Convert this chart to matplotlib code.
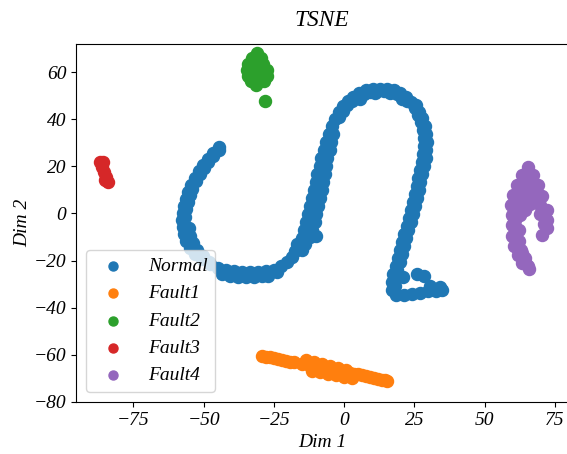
import matplotlib
matplotlib.use("Agg")
import matplotlib.pyplot as plt

# t-SNE embedding (Dim 1, Dim 2)
normal_x = [-44.5, -46.6, -48.4, -50.2, -51.6, -53.0, -54.4, -55.5, -56.2, -56.9,
            -57.3, -57.7, -57.3, -55.2, -56.9, -54.8, -56.2, -53.7, -54.8, -52.3,
            -53.0, -50.2, -50.5, -48.0, -47.7, -44.8, -43.4, -42.0, -40.6, -39.1,
            -37.7, -36.3, -34.9, -33.5, -32.0, -30.6, -29.2, -27.8, -27.0, -24.9,
            -23.8, -22.4, -20.3, -18.5, -17.4, -14.9, -16.7, -13.9, -14.9, -12.1,
            -10.0, -14.2, -11.4, -13.5, -10.3, -12.8, -10.0, -12.1, -9.3, -11.4,
            -8.5, -10.7, -7.8, -10.0, -7.5, -9.6, -6.8, -8.5, -6.4, -8.2,
            -6.0, -7.1, -5.0, -6.4, -4.6, -5.3, -3.9, -4.3, -3.2, -1.8,
            -0.4, 1.4, 3.2, 5.3, 7.8, 10.3, 12.8, 15.3, 17.8, 19.9,
            22.1, 23.8, 25.3, 26.3, 27.4, 28.1, 28.5, 28.5, 28.1, 27.8,
            27.0, 26.3, 26.0, 25.3, 24.6, 23.8, 23.1, 22.4, 21.4, 20.6,
            19.9, 19.2, 18.5, 17.4, 17.1, 17.1, 18.5, 21.4, 24.2, 27.0,
            29.9, 32.7, 34.9, 30.6, 34.2, 21.0, 26.0, 28.5, 5.7, 11.0,
            16.4, 20.6,
            # right arm, outer edge
            25.5, 26.8, 27.9, 28.8, 29.3, 29.5, 29.3, 29.0, 28.4, 27.7,
            27.2, 26.7, 26.0, 25.2, 24.5, 23.8, 22.9, 22.0, 21.3, 20.6,
            19.9, 19.0, 18.3, 18.1,
            # top arc, inner edge
            -1.8, -0.4, 1.2, 3.0, 4.9, 7.2, 9.1, 11.6, 14.1, 16.6,
            18.9, 20.7, 22.3,
            # left arc, inner edge
            -44.6, -46.6, -48.4, -50.0, -51.4, -52.8, -54.1, -55.0, -55.7, -56.2,
            -56.6]
normal_y = [28.2, 25.7, 23.2, 20.6, 18.1, 15.1, 12.1, 9.1, 6.2, 3.2,
            0.2, -2.8, -5.7, -6.2, -8.7, -9.6, -11.7, -12.5, -14.7, -15.5,
            -17.2, -18.1, -19.3, -20.6, -21.4, -23.2, -25.7, -24.0, -26.6, -24.4,
            -27.0, -24.9, -27.0, -24.9, -27.0, -24.9, -26.6, -24.4, -26.6, -24.0,
            -24.9, -22.3, -20.6, -18.5, -15.9, -15.5, -13.0, -13.0, -10.4, -10.0,
            -9.6, -7.0, -7.0, -3.6, -3.6, -0.2, -0.2, 3.2, 3.2, 6.6,
            6.6, 10.0, 10.0, 13.4, 13.4, 16.8, 16.8, 20.2, 20.2, 23.6,
            23.6, 27.0, 27.0, 30.4, 30.4, 33.8, 33.8, 37.2, 40.1, 43.1,
            45.7, 47.8, 49.5, 51.2, 52.5, 52.9, 52.9, 52.9, 52.5, 51.2,
            49.5, 47.4, 44.8, 41.8, 38.9, 35.5, 32.1, 28.7, 25.3, 21.9,
            18.5, 15.1, 11.7, 8.3, 4.9, 1.5, -1.9, -5.3, -8.7, -12.1,
            -15.5, -18.9, -22.3, -25.7, -29.1, -32.5, -34.6, -34.6, -34.2, -33.8,
            -32.9, -32.9, -32.5, -30.8, -31.2, -27.0, -25.7, -26.6, 48.6, 51.2,
            51.2, 48.6,
            46.1, 43.3, 40.4, 37.2, 33.8, 30.4, 27.0, 23.6, 20.2, 16.8,
            13.4, 10.0, 6.6, 3.2, -0.2, -3.6, -7.0, -10.4, -13.8, -17.2,
            -20.6, -24.0, -27.4, -30.8,
            41.0, 43.7, 46.0, 47.9, 49.6, 50.8, 51.7, 51.9, 51.9, 51.7,
            50.8, 49.6, 47.8,
            27.0, 24.5, 21.9, 19.4, 16.6, 13.6, 10.6, 7.7, 4.7, 1.7,
            -1.3]

fault1_x = [-29.2, -26.3, -23.5, -20.6, -17.8, -14.9, -12.1, -9.3, -6.4, -3.6,
            -0.7, 2.1, 5.0, 7.8, 10.7, 13.5, 15.3, -13.5, -10.7, -7.8,
            -5.0, -2.1, 0.7, -11.4, -8.5, -5.7, -2.8, 0.0, 2.8,
            -27.8, -24.9, -22.0, -19.2, 3.6, 6.4, 9.2, 12.1, 14.4]
fault1_y = [-60.5, -61.1, -61.8, -62.7, -63.3, -63.9, -64.6, -65.2, -65.8, -66.5,
            -67.1, -67.8, -68.4, -69.0, -69.9, -70.7, -71.2, -62.2, -63.1, -63.9,
            -64.8, -65.6, -66.5, -66.9, -67.3, -68.2, -68.6, -69.5, -69.9,
            -60.8, -61.4, -62.2, -63.0, -68.1, -68.7, -69.4, -70.3, -70.9]

fault2_x = [-31.0, -32.8, -29.7, -34.2, -31.7, -28.8, -34.6, -32.2, -29.6, -27.6,
            -34.3, -32.0, -29.4, -27.6, -33.1, -30.6, -28.5, -31.3, -28.1]
fault2_y = [68.0, 66.1, 66.1, 63.5, 63.5, 63.5, 61.0, 61.0, 61.0, 61.0,
            58.4, 58.4, 58.4, 58.2, 56.2, 56.0, 56.4, 54.6, 47.6]

fault3_x = [-86.8, -86.1, -85.4, -84.7, -84.0, -85.8, -85.1]
fault3_y = [21.9, 19.8, 17.6, 15.5, 13.4, 21.9, 14.2]

fault4_x = [65.5, 63.3, 67.3, 61.6, 65.1, 69.0, 60.1, 63.7, 67.3, 70.5,
            59.4, 62.6, 66.2, 69.8, 72.2, 59.8, 62.6, 69.8, 72.2, 72.2,
            70.5, 59.8, 62.3, 59.8, 62.3, 60.5, 63.0, 62.0, 64.4, 63.3,
            65.5, 65.8,
            64.4, 66.2, 62.4, 66.2, 68.0, 61.9, 65.0, 68.5, 61.0, 64.4,
            71.0, 70.8, 61.0, 61.0, 61.0, 61.5, 63.5, 63.8, 64.8]
fault4_y = [19.8, 16.4, 16.4, 12.1, 12.1, 12.1, 7.9, 7.9, 7.9, 7.4,
            3.6, 3.6, 4.0, 3.6, 1.5, -0.6, -0.6, -0.2, -2.8, -6.2,
            -9.1, -4.9, -7.0, -9.6, -11.7, -13.8, -15.5, -17.6, -18.9, -21.0,
            -22.3, -23.6,
            14.2, 14.2, 10.0, 10.0, 10.0, 5.8, 5.8, 5.8, 1.5, 1.5,
            -4.5, 1.0, -2.8, -5.5, -10.5, -14.5, -17.0, -20.0, -21.5]

labels = ['Normal', 'Fault1', 'Fault2', 'Fault3', 'Fault4']
xs = [normal_x, fault1_x, fault2_x, fault3_x, fault4_x]
ys = [normal_y, fault1_y, fault2_y, fault3_y, fault4_y]

plt.rcParams['font.family'] = ['Liberation Serif', 'DejaVu Serif']
plt.rcParams['font.style'] = 'italic'
plt.rcParams['font.size'] = 14

fig = plt.figure(figsize=(5.67, 4.54), dpi=100)
ax = fig.add_axes([76 / 567, 52 / 454, 492 / 567, 358 / 454])

for lab, x, y in zip(labels, xs, ys):
    ax.scatter(x, y, s=75, label=lab)

ax.set_xlim(-95.4, 79.7)
ax.set_ylim(-80.1, 72.0)
ax.set_title('TSNE', pad=13)
ax.set_xlabel('Dim 1')
ax.set_ylabel('Dim 2', labelpad=2)
ax.legend(loc='lower left', markerscale=0.75)

fig.canvas.draw()
for t in ax.get_xticklabels() + ax.get_yticklabels():
    t.set_fontstyle('italic')

fig.savefig('out.png', dpi=100)
